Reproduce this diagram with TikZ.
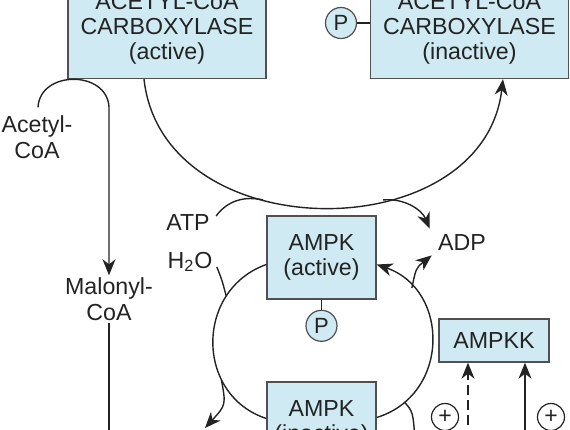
\documentclass[tikz,border=0pt]{standalone}
\usepackage{fontspec}
\setmainfont{Liberation Sans}
\usetikzlibrary{arrows.meta,positioning,calc}
\definecolor{boxblue}{RGB}{207,234,242}
\definecolor{edgegray}{RGB}{80,80,80}
\definecolor{ink}{RGB}{35,35,35}
\tikzset{box/.style={draw=edgegray,fill=boxblue,line width=0.7pt,align=center,inner sep=0pt,text=ink,font=\fontsize{11.6}{12.6}\selectfont},
 phos/.style={draw=edgegray,circle,fill=boxblue,inner sep=0pt,minimum size=15.5pt,line width=0.6pt,text=ink,font=\fontsize{11}{11}\selectfont},
 plus/.style={draw=ink,circle,inner sep=0pt,minimum size=13.5pt,line width=0.6pt,text=ink,font=\fontsize{11.5}{11.5}\selectfont},
 lbl/.style={align=center,inner sep=1pt,text=ink,font=\fontsize{11.6}{12.8}\selectfont},
 line/.style={draw=ink,line width=0.7pt},
 arrow/.style={line,-{Stealth[length=8pt,width=6.5pt,inset=2.5pt]}}}

\begin{document}
\begin{tikzpicture}[x=0.5pt,y=-0.5pt]
\useasboundingbox (0,0) rectangle (570,430);
\node[box,minimum width=99pt,minimum height=49.5pt] (acca) at (167,29) {ACETYL-CoA\\CARBOXYLASE\\(active)};
\node[box,minimum width=99pt,minimum height=49.5pt] (acci) at (469.5,29) {ACETYL-CoA\\CARBOXYLASE\\(inactive)};
\node[phos] (pacc) at (341,23) {P};
\node[box,minimum width=54.5pt,minimum height=41.5pt] (ampka) at (321.5,257.5) {AMPK\\(active)};
\node[phos,below=5pt of ampka] (pampk) {P};
\node[box,minimum width=54.5pt,minimum height=41.5pt] (ampki) at (321.5,423.5) {AMPK\\(inactive)};
\node[box,minimum width=55pt,minimum height=21.5pt] (ampkk) at (494,340.5) {AMPKK};
\node[lbl] (acetyl) at (37,137) {Acetyl-\\CoA};
\node[lbl] (malonyl) at (109,299) {Malonyl-\\CoA};
\node[lbl] (atp) at (188,223) {ATP};
\node[lbl] (water) at (190,262) {H\textsubscript{2}O};
\node[lbl] (adp) at (462,243) {ADP};
\node[plus] (plusa) at (445,417) {+};
\node[plus] (plusb) at (551,417) {+};
\coordinate (malend) at (109,440);
\coordinate (piend) at (205,428);
\coordinate (rend) at (415,440);
\coordinate (dashbot) at (468,440);
\coordinate (solidbot) at (525,440);

% acetyl-CoA carboxylase cycle
\draw[line] (pacc) -- (pacc -| acci.west);
\draw[arrow] ($(acca.south)+(-23,0)$) .. controls (163,250) and (483,250) .. ($(acci.south)+(33.5,0)$)
  coordinate[pos=0.38] (atpjoin) coordinate[pos=0.62] (adpjoin);
\draw[line] ($(atp.east)+(4,-7)$) .. controls (228,200) and (245,196) .. (atpjoin);
\draw[arrow] (adpjoin) .. controls (405,198) and (422,210) .. ($(adp.north west)+(-6,-4)$);
\draw[arrow] ($(acetyl.north)+(1,-6)$) .. controls (40,70) and (107,70) .. (109,107) -- (malonyl.north);
\draw[line] (malonyl.south) -- (malend);

% AMPK cycle
\draw[line] (ampka) -- (pampk);
\draw[line] ($(ampka.west)+(0,7)$) .. controls (195,290) and (195,395) .. ($(ampki.west)+(0,-5)$)
  coordinate[pos=0.25] (h2oin) coordinate[pos=0.7] (piout);
\draw[line] ($(water.east)+(2,5)$) .. controls (222,280) .. (h2oin);
\draw[arrow] (piout) .. controls (226,405) .. (piend);
\draw[arrow] ($(ampki.east)+(0,-6)$) .. controls (450,395) and (450,290) .. ($(ampka.east)+(0,7)$)
  coordinate[pos=0.15] (atpin) coordinate[pos=0.8] (adpout);
\draw[arrow] (adpout) .. controls (416,268) .. ($(adp.south west)+(-4,2)$);
\draw[line] (atpin) .. controls (413,412) .. (rend);

% AMPKK
\draw[arrow,dash pattern=on 5pt off 2.5pt] (dashbot) -- (dashbot |- ampkk.south);
\draw[arrow] (solidbot) -- (solidbot |- ampkk.south);
\end{tikzpicture}
\end{document}
